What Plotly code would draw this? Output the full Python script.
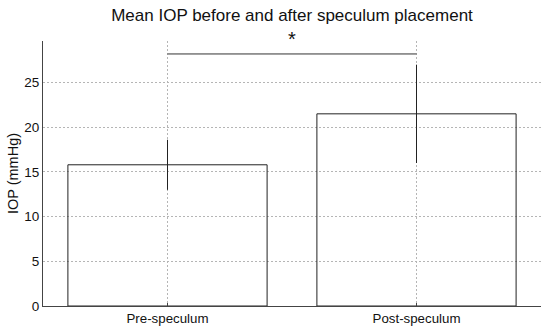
import plotly.graph_objects as go

categories = ["Pre-speculum", "Post-speculum"]
positions = [1, 2]
mean_iop = [15.8, 21.5]
error_iop = [2.8, 5.5]
y_ticks = [0, 5, 10, 15, 20, 25]
bracket_y = 28.2

fig = go.Figure()
fig.add_trace(go.Bar(
    x=positions, y=mean_iop, width=0.8,
    marker=dict(color="rgba(255,255,255,0)", line=dict(color="#222", width=1)),
    error_y=dict(type="data", array=error_iop, visible=True, thickness=1, width=0, color="#222"),
    showlegend=False,
))

fig.add_shape(type="line", x0=positions[0], x1=positions[1], y0=bracket_y, y1=bracket_y,
              xref="x", yref="y", line=dict(color="#333", width=1))
fig.add_annotation(x=1.5, y=1.0, xref="x", yref="paper", yanchor="bottom", yshift=-11,
                   text="*", showarrow=False, font=dict(size=20, color="#111"))

fig.update_layout(
    width=550, height=330,
    margin=dict(l=43, r=9, t=41, b=24),
    paper_bgcolor="white", plot_bgcolor="white",
    font=dict(family="Liberation Sans, Arial, sans-serif", color="#111", size=13),
    title=dict(text="Mean IOP before and after speculum placement", x=0.5, xanchor="center",
               xref="paper", y=1 - 15 / 330, yanchor="middle", font=dict(size=17)),
)
fig.update_xaxes(range=[0.5, 2.5], tickvals=positions, ticktext=categories,
                 showline=True, linecolor="#444", linewidth=1,
                 showgrid=True, gridcolor="#b5b5b5", griddash="2px,2px", gridwidth=1,
                 ticks="inside", ticklen=3, tickcolor="#444",
                 zeroline=False, tickfont=dict(size=13.3), automargin=False)
fig.update_yaxes(range=[0, 29.65], tickvals=y_ticks,
                 showline=True, linecolor="#444", linewidth=1,
                 showgrid=True, gridcolor="#b5b5b5", griddash="2px,2px", gridwidth=1,
                 ticks="", zeroline=False, tickfont=dict(size=13.5), automargin=False,
                 title=dict(text="IOP (mmHg)", font=dict(size=14.5), standoff=2))

fig.write_html("out.html", config={"displayModeBar": False},
               post_script="document.body.style.margin='0';document.body.style.overflow='hidden';")
